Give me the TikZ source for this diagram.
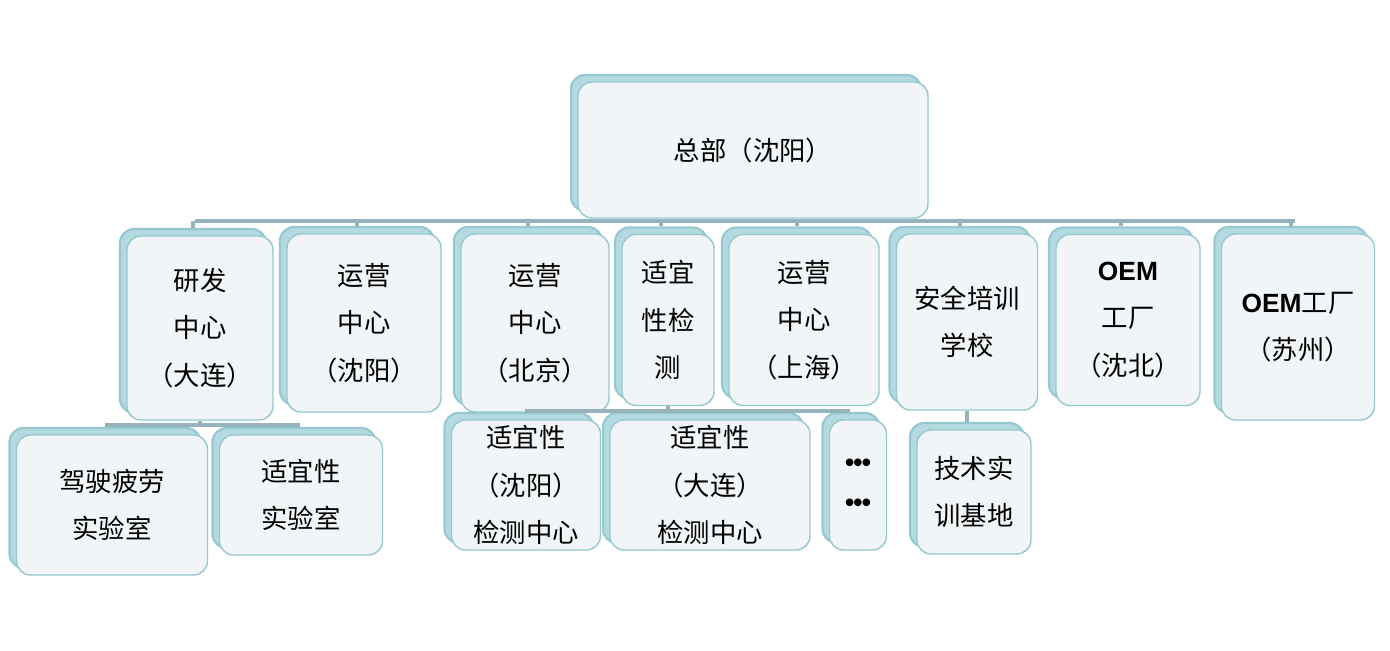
\documentclass[tikz,border=0pt]{standalone}
\usepackage{fontspec}
\setmainfont{Noto Sans CJK SC}
\newfontfamily\latinsans{Liberation Sans}
\usepackage{tikz}
\usetikzlibrary{positioning,shadows}
\definecolor{cardfront}{RGB}{242,245,247}
\definecolor{cardback}{RGB}{178,218,224}
\definecolor{cardedge}{RGB}{150,200,208}
\definecolor{busline}{RGB}{150,178,186}
\newcommand{\orgcard}[6]{% name, cx, cy, w, h, text
  \node[backcard, minimum width={#4*0.02cm}, minimum height={#5*0.02cm}] (#1-b) at (#2-7,#3-7) {};
  \node[frontcard, minimum width={#4*0.02cm}, minimum height={#5*0.02cm}] (#1) at (#2,#3) {#6};
}
\newcommand{\dotrow}{{\latinsans\bfseries\textbullet\kern-0.5pt\textbullet\kern-0.5pt\textbullet}}
\begin{document}
\begin{tikzpicture}[x=0.02cm, y=-0.02cm,
  frontcard/.style={draw=cardedge, line width=0.8pt, fill=cardfront, rounded corners=8pt,
                    align=center, inner sep=0pt, font=\fontsize{15}{27}\selectfont},
  backcard/.style={draw=cardedge, line width=1.2pt, fill=cardback, rounded corners=8pt,
                   drop shadow={opacity=0.25, shadow xshift=1.5pt, shadow yshift=-1.5pt}},
  bus/.style={draw=busline, line width=1.8pt}
]
\useasboundingbox (0,0) rectangle (1390,651);

% top
\orgcard{hq}{753}{150}{350}{136}{总部（沈阳）}

% second row
\orgcard{rd}{200}{328}{146}{184}{研发\\中心\\（大连）}
\orgcard{opsy}{364}{323}{154}{178}{运营\\中心\\（沈阳）}
\orgcard{opbj}{535}{323}{148}{178}{运营\\中心\\（北京）}
\orgcard{fit}{668}{320}{92}{171}{适宜\\性检\\测}
\orgcard{opsh}{804}{320}{150}{171}{运营\\中心\\（上海）}
\orgcard{safe}{967}{322}{141}{176}{安全培训\\学校}
\orgcard{oemsb}{1128}{320}{144}{171}{{\latinsans\bfseries OEM}\\工厂\\（沈北）}
\orgcard{oemsz}{1298}{327}{153}{186}{{\latinsans\bfseries OEM}工厂\\（苏州）}

% third row
\orgcard{fatigue}{112}{505}{191}{140}{驾驶疲劳\\实验室}
\orgcard{fitlab}{301}{495}{163}{120}{适宜性\\实验室}
\orgcard{fitsy}{526}{485}{149}{130}{适宜性\\（沈阳）\\检测中心}
\orgcard{fitdl}{710}{485}{200}{130}{适宜性\\（大连）\\检测中心}
\orgcard{more}{858}{485}{57}{130}{\dotrow\\[-4pt]\dotrow}
\orgcard{base}{974}{492}{114}{124}{技术实\\训基地}

% connectors
\coordinate (busL) at (195,221);
\coordinate (busR) at (1295,221);
\draw[bus] (busL) -- (busR);
\draw[bus] (hq.south) -- (hq.south |- busL);
\foreach \n in {rd,opsy,opbj,fit,opsh,safe,oemsb,oemsz}
  \draw[bus] (\n-b.north) -- (\n-b.north |- busL);

\coordinate (rdbusL) at (105,425);
\coordinate (rdbusR) at (300,425);
\draw[bus] (rdbusL) -- (rdbusR);
\draw[bus] (rd.south) -- (rd.south |- rdbusL);

\coordinate (bjbusL) at (525,411);
\coordinate (bjbusR) at (850,411);
\draw[bus] (bjbusL) -- (bjbusR);
\draw[bus] (fit.south) -- (fit.south |- bjbusL);

\draw[bus] (safe.south) -- (safe.south |- base-b.north);
\end{tikzpicture}
\end{document}
